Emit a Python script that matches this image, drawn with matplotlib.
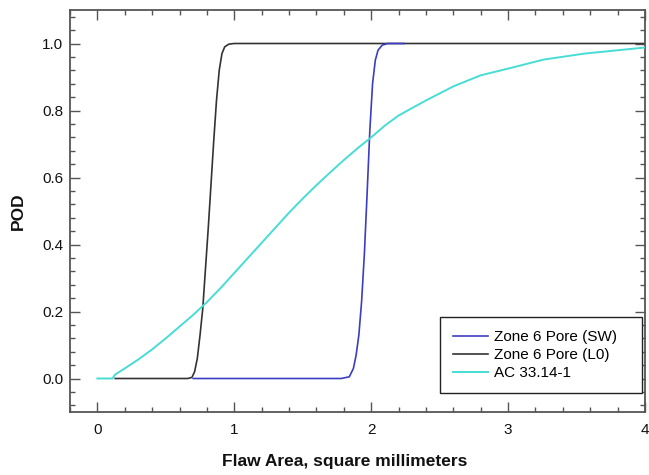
import matplotlib
matplotlib.use("Agg")
import matplotlib.pyplot as plt
from matplotlib.ticker import MultipleLocator, FixedLocator

plt.rcParams['font.family'] = ['Liberation Sans', 'DejaVu Sans']

# POD curves: flaw area (mm^2) vs probability of detection
sw_area = [0.70, 1.78, 1.84, 1.87, 1.89, 1.91, 1.93, 1.95, 1.97, 1.99,
           2.01, 2.03, 2.05, 2.08, 2.12, 2.24]
sw_pod = [0.0, 0.0, 0.005, 0.03, 0.07, 0.13, 0.23, 0.37, 0.55, 0.74,
          0.88, 0.95, 0.98, 0.995, 1.0, 1.0]

l0_area = [0.13, 0.66, 0.69, 0.71, 0.73, 0.75, 0.77, 0.79, 0.81, 0.83,
           0.85, 0.87, 0.89, 0.91, 0.93, 0.96, 1.00, 4.0]
l0_pod = [0.0, 0.0, 0.003, 0.02, 0.06, 0.13, 0.21, 0.33, 0.45, 0.58,
          0.71, 0.83, 0.92, 0.97, 0.99, 0.998, 1.0, 1.0]

ac_area = [0.0, 0.11, 0.13, 0.2, 0.3, 0.4, 0.5, 0.6, 0.7, 0.8, 0.9, 1.0,
           1.1, 1.2, 1.3, 1.4, 1.5, 1.6, 1.7, 1.8, 1.9, 2.0, 2.1, 2.2,
           2.4, 2.6, 2.8, 3.0, 3.26, 3.56, 4.0]
ac_pod = [0.0, 0.0, 0.012, 0.03, 0.057, 0.087, 0.12, 0.155, 0.19, 0.228,
          0.27, 0.315, 0.36, 0.405, 0.45, 0.495, 0.537, 0.577, 0.615,
          0.652, 0.687, 0.72, 0.755, 0.785, 0.83, 0.872, 0.905, 0.925,
          0.952, 0.970, 0.988]

series_labels = ["Zone 6 Pore (SW)", "Zone 6 Pore (L0)", "AC 33.14-1"]
x_ticks = [0, 1, 2, 3, 4]
y_ticks = [0.0, 0.2, 0.4, 0.6, 0.8, 1.0]

fig = plt.figure(figsize=(6.49, 4.75), dpi=100)
ax = fig.add_axes([70 / 649, 1 - 412 / 475, 575 / 649, 402 / 475])

h_l0, = ax.plot(l0_area, l0_pod, color="#333333", lw=1.2, zorder=2)
h_sw, = ax.plot(sw_area, sw_pod, color="#3c3cc4", lw=1.2, zorder=3)
h_ac, = ax.plot(ac_area, ac_pod, color="#48dcd6", lw=1.4, zorder=4)

ax.set_xlim(-0.2, 4.0)
ax.set_ylim(-0.1, 1.1)
ax.xaxis.set_major_locator(FixedLocator(x_ticks))
ax.yaxis.set_major_locator(FixedLocator(y_ticks))
ax.set_xticklabels([str(v) for v in x_ticks])
ax.set_yticklabels([f"{v:.1f}" for v in y_ticks])
ax.xaxis.set_minor_locator(MultipleLocator(0.2))
ax.yaxis.set_minor_locator(MultipleLocator(0.04))

for s in ax.spines.values():
    s.set_color("#555555")
    s.set_linewidth(1.3)

ax.tick_params(which="both", direction="in", top=True, right=True,
               color="#555555", width=1.0, labelsize=11, labelcolor="#111111")
ax.tick_params(which="major", length=7)
ax.tick_params(which="minor", length=3.8)
ax.tick_params(axis="x", which="major", pad=8)
ax.tick_params(axis="y", which="major", pad=5)

ax.set_xlabel("Flaw Area, square millimeters", fontsize=12.5,
              fontweight="bold", color="#111111")
ax.set_ylabel("POD", fontsize=12.5, fontweight="bold", color="#111111")
ax.xaxis.set_label_coords(0.477, -0.105)
ax.yaxis.set_label_coords(-0.076, 0.5)

leg = ax.legend([h_sw, h_l0, h_ac], series_labels, loc="lower left",
                bbox_to_anchor=(370 / 575, 19 / 402, 202 / 575, 0.1),
                mode="expand", borderaxespad=0,
                fontsize=11, frameon=True, fancybox=False, borderpad=0.85,
                handlelength=2.3, handletextpad=0.4, labelspacing=0.25)
leg.get_frame().set_edgecolor("#222222")
leg.get_frame().set_linewidth(1.0)
leg.get_frame().set_alpha(1.0)

fig.savefig("out.png", dpi=100)
